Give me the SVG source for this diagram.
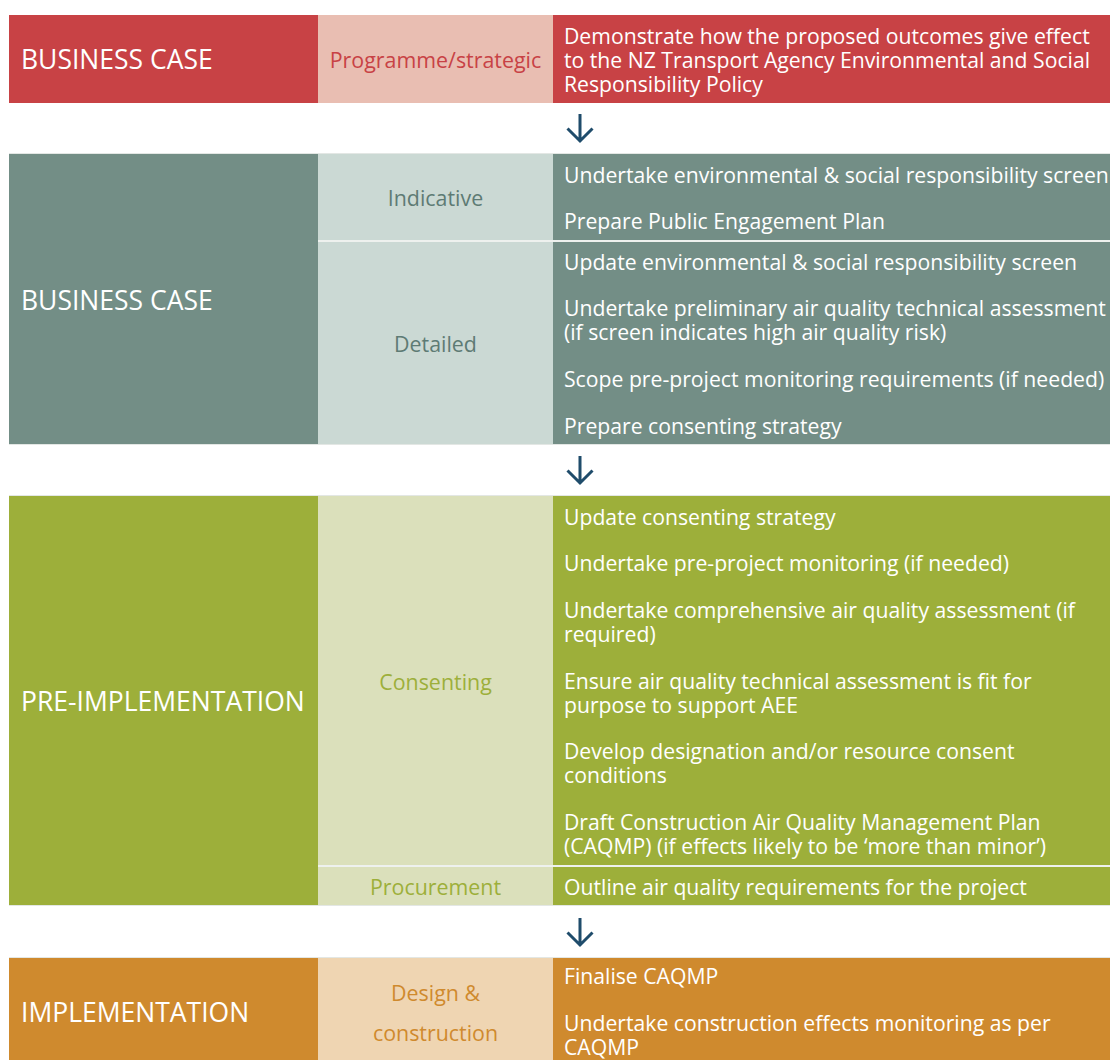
<svg xmlns="http://www.w3.org/2000/svg" width="1110" height="1060" viewBox="0 0 1110 1060">
<style>
text{font-family:"Open Sans","Noto Sans","Liberation Sans",sans-serif}
.lbl{font-size:26.5px;fill:#fff}
.mid{font-size:21.4px;text-anchor:middle}
.act{font-size:21.2px;fill:#fff}
.split{stroke:#eef1ee;stroke-width:2}
.arr{fill:none;stroke:#1f4c6b;stroke-width:3;stroke-linecap:butt}
.edge{stroke:#e3e7e4;stroke-width:1}
</style>
<rect width="1110" height="1060" fill="#fff"/>
<g id="band-business-case-programme">
<rect x="9" y="15" width="309" height="88" fill="#c84245"/>
<rect x="318" y="15" width="235" height="88" fill="#e9beb2"/>
<rect x="553" y="15" width="557" height="88" fill="#c84245"/>
<text class="lbl" x="21" y="69">BUSINESS CASE</text>
<text class="mid" x="435.5" y="68" fill="#c84245">Programme/strategic</text>
<text class="act" x="564" y="44">Demonstrate how the proposed outcomes give effect<tspan x="564" dy="24">to the NZ Transport Agency Environmental and Social</tspan><tspan x="564" dy="24">Responsibility Policy</tspan></text>
</g>
<g id="band-business-case-indicative-detailed">
<rect x="9" y="153" width="309" height="292" fill="#738e86"/>
<rect x="318" y="153" width="235" height="292" fill="#cbd9d4"/>
<rect x="553" y="153" width="557" height="292" fill="#738e86"/>
<line class="edge" x1="9" y1="153.5" x2="1110" y2="153.5"/>
<line class="edge" x1="9" y1="444.5" x2="1110" y2="444.5"/>
<line class="split" x1="318" y1="241" x2="1110" y2="241"/>
<text class="lbl" x="21" y="310">BUSINESS CASE</text>
<text class="mid" x="435.5" y="206" fill="#5e7b74">Indicative</text>
<text class="mid" x="435.5" y="352" fill="#5e7b74">Detailed</text>
<text class="act" x="564" y="183">Undertake environmental &amp; social responsibility screen</text>
<text class="act" x="564" y="229">Prepare Public Engagement Plan</text>
<text class="act" x="564" y="270">Update environmental &amp; social responsibility screen</text>
<text class="act" x="564" y="316">Undertake preliminary air quality technical assessment<tspan x="564" dy="24">(if screen indicates high air quality risk)</tspan></text>
<text class="act" x="564" y="387">Scope pre-project monitoring requirements (if needed)</text>
<text class="act" x="564" y="434">Prepare consenting strategy</text>
</g>
<g id="band-pre-implementation">
<rect x="9" y="495" width="309" height="411" fill="#9daf3a"/>
<rect x="318" y="495" width="235" height="411" fill="#dbe0bb"/>
<rect x="553" y="495" width="557" height="411" fill="#9daf3a"/>
<line class="edge" x1="9" y1="495.5" x2="1110" y2="495.5"/>
<line class="edge" x1="9" y1="905.5" x2="1110" y2="905.5"/>
<line class="split" x1="318" y1="866" x2="1110" y2="866"/>
<text class="lbl" x="21" y="711">PRE-IMPLEMENTATION</text>
<text class="mid" x="435.5" y="690" fill="#9daf3a">Consenting</text>
<text class="mid" x="435.5" y="895" fill="#9daf3a">Procurement</text>
<text class="act" x="564" y="525">Update consenting strategy</text>
<text class="act" x="564" y="571">Undertake pre-project monitoring (if needed)</text>
<text class="act" x="564" y="618">Undertake comprehensive air quality assessment (if<tspan x="564" dy="24">required)</tspan></text>
<text class="act" x="564" y="689">Ensure air quality technical assessment is fit for<tspan x="564" dy="24">purpose to support AEE</tspan></text>
<text class="act" x="564" y="759">Develop designation and/or resource consent<tspan x="564" dy="24">conditions</tspan></text>
<text class="act" x="564" y="830">Draft Construction Air Quality Management Plan<tspan x="564" dy="24">(CAQMP) (if effects likely to be ‘more than minor’)</tspan></text>
<text class="act" x="564" y="895">Outline air quality requirements for the project</text>
</g>
<g id="band-implementation">
<rect x="9" y="957" width="309" height="103" fill="#cf8a2e"/>
<rect x="318" y="957" width="235" height="103" fill="#efd5b2"/>
<rect x="553" y="957" width="557" height="103" fill="#cf8a2e"/>
<line class="edge" x1="9" y1="957.5" x2="1110" y2="957.5"/>
<text class="lbl" x="21" y="1022">IMPLEMENTATION</text>
<text class="mid" x="435.5" y="1001" fill="#cf8a2e">Design &amp;<tspan x="435.5" dy="40">construction</tspan></text>
<text class="act" x="564" y="984">Finalise CAQMP</text>
<text class="act" x="564" y="1031">Undertake construction effects monitoring as per<tspan x="564" dy="24">CAQMP</tspan></text>
</g>
<g id="connectors">
<path class="arr" d="M580 114V141M567.5 128.5L580 141L592.5 128.5"/>
<path class="arr" d="M580 456V483M567.5 470.5L580 483L592.5 470.5"/>
<path class="arr" d="M580 918V945M567.5 932.5L580 945L592.5 932.5"/>
</g>
</svg>
